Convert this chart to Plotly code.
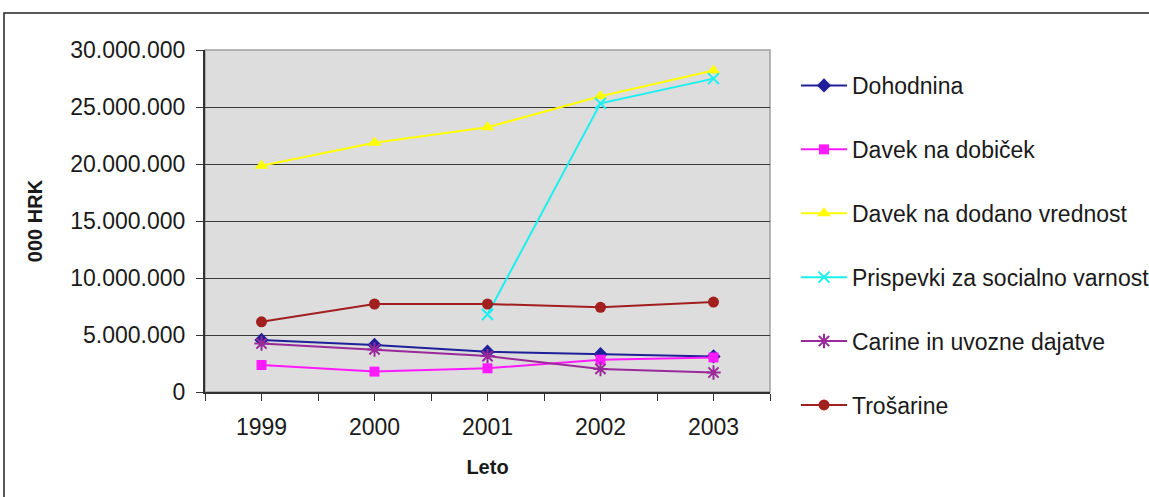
import plotly.graph_objects as go

years = [1999, 2000, 2001, 2002, 2003]

dohodnina = [4570000, 4130000, 3530000, 3320000, 3120000]
davek_dobicek = [2370000, 1790000, 2080000, 2830000, 3030000]
ddv = [19850000, 21870000, 23220000, 25950000, 28200000]
prispevki = [None, None, 6800000, 25320000, 27490000]
carine = [4250000, 3730000, 3150000, 2020000, 1710000]
trosarine = [6160000, 7720000, 7720000, 7430000, 7890000]

series = [
    ("Dohodnina", dohodnina, "#1f1f99", "diamond", 11),
    ("Davek na dobiček", davek_dobicek, "#ff1aff", "square", 10),
    ("Davek na dodano vrednost", ddv, "#ffff00", "triangle-up", 12),
    ("Prispevki za socialno varnost", prispevki, "#1af0f0", "x-thin", 11),
    ("Carine in uvozne dajatve", carine, "#9a2a9a", "asterisk", 12),
    ("Trošarine", trosarine, "#a11f1f", "circle", 11),
]

fig = go.Figure()
for i, (name, vals, color, symbol, size) in enumerate(series):
    thin = symbol in ("x-thin", "asterisk")
    fig.add_trace(go.Scatter(
        x=years, y=vals, name=name, mode="lines+markers",
        legendgroup=f"g{i}",
        line=dict(color=color, width=2),
        marker=dict(symbol=symbol, size=size, color=color,
                    line=dict(color=color, width=2 if thin else 0)),
    ))

font = "Liberation Sans, Arial, sans-serif"
L, R, T, B = 205, 379, 50, 105
W, H = 1149, 497
pw, ph = W - L - R, H - T - B

def px(x):
    return (x - L) / pw

def py(y):
    return (H - B - y) / ph

fig.update_layout(
    width=W, height=H,
    margin=dict(l=L, r=R, t=T, b=B, pad=0, autoexpand=False),
    paper_bgcolor="white",
    plot_bgcolor="#dddddd",
    separators=",.",
    font=dict(family=font, size=23, color="#1a1a1a"),
    showlegend=True,
    legend=dict(
        x=px(796), y=py(64), xanchor="left", yanchor="top",
        bgcolor="rgba(0,0,0,0)", borderwidth=0,
        tracegroupgap=31, itemwidth=46, maxheight=800,
        font=dict(family=font, size=23, color="#1a1a1a"),
    ),
    xaxis=dict(
        range=[1998.5, 2003.5],
        tickmode="array", tickvals=years, ticktext=[str(y) for y in years],
        ticks="outside", ticklen=7, tickcolor="#333333", tickwidth=1,
        ticklabelstandoff=6,
        minor=dict(ticks="outside", tickmode="linear", tick0=1998.5, dtick=1,
                   ticklen=7, tickcolor="#333333", tickwidth=1, showgrid=False),
        showline=True, linecolor="#333333", linewidth=2,
        showgrid=False, zeroline=False,
        tickfont=dict(family=font, size=23),
        title=dict(text="<b>Leto</b>", font=dict(family=font, size=20), standoff=21),
    ),
    yaxis=dict(
        range=[0, 30000000],
        tickmode="linear", tick0=0, dtick=5000000,
        tickformat=",.0f",
        ticks="outside", ticklen=7, tickcolor="#333333", tickwidth=1,
        ticklabelstandoff=6,
        showline=True, linecolor="#333333", linewidth=2,
        showgrid=True, gridcolor="#3a3a3a", gridwidth=1,
        zeroline=False,
        tickfont=dict(family=font, size=23),
        title=dict(text="<b>000 HRK</b>", font=dict(family=font, size=20), standoff=22),
    ),
    shapes=[
        dict(type="rect", xref="paper", yref="paper", x0=0, x1=1, y0=0, y1=1,
             line=dict(color="#a0a0a0", width=1.5), layer="below"),
        dict(type="rect", xref="paper", yref="paper",
             x0=px(4), x1=px(1200), y0=py(13), y1=py(560),
             line=dict(color="#222222", width=1.5), layer="above"),
    ],
)

fig.write_html("out.html")
